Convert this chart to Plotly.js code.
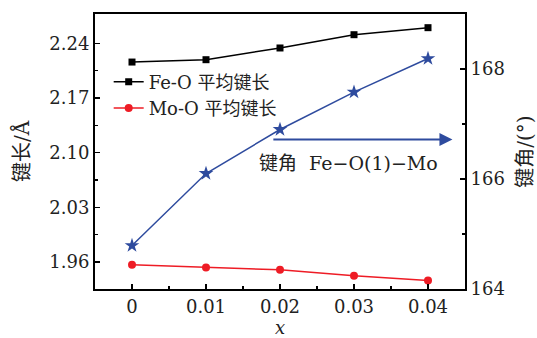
<!DOCTYPE html>
<html><head><meta charset="utf-8">
<script src="https://cdn.plot.ly/plotly-3.0.1.min.js"></script>
<style>body{margin:0;background:#fff}#c{width:537px;height:338px}</style>
</head><body><div id="c"></div>
<script>
const xVals = [0, 0.01, 0.02, 0.03, 0.04];
const feO = [2.216, 2.219, 2.234, 2.251, 2.260];
const moO = [1.9565, 1.953, 1.950, 1.9425, 1.9365];
const angle = [164.79, 166.10, 166.90, 167.58, 168.19];
const xTicks = [0, 0.01, 0.02, 0.03, 0.04];
const xTickText = ['0', '0.01', '0.02', '0.03', '0.04'];
const yTicks = [1.96, 2.03, 2.10, 2.17, 2.24];
const yTickText = ['1.96', '2.03', '2.10', '2.17', '2.24'];
const y2Ticks = [164, 166, 168];

const serif = 'DejaVu Serif';
const cjk = 'DejaVu Serif, Noto Sans CJK SC';

const traces = [
  {x: xVals, y: feO, name: 'Fe-O 平均键长', mode: 'lines+markers',
   line: {color: '#000000', width: 1.5}, marker: {symbol: 'square', size: 7, color: '#000000'}},
  {x: xVals, y: moO, name: 'Mo-O 平均键长', mode: 'lines+markers',
   line: {color: '#ee1c25', width: 1.5}, marker: {symbol: 'circle', size: 8, color: '#ee1c25'}},
  {x: xVals, y: angle, name: '键角', yaxis: 'y2', mode: 'lines+markers', showlegend: false,
   line: {color: '#2e4b9e', width: 1.5}, marker: {symbol: 'star', size: 11, color: '#2e4b9e'}}
];

const layout = {
  width: 537, height: 338,
  margin: {l: 95, r: 72, t: 14, b: 49},
  paper_bgcolor: '#fff', plot_bgcolor: '#fff',
  font: {family: serif, size: 18, color: '#222'},
  showlegend: true,
  legend: {x: 0.037, y: 0.82, xanchor: 'left', yanchor: 'top', bgcolor: 'rgba(0,0,0,0)',
    font: {family: cjk, size: 18, color: '#222'}, tracegroupgap: 0, itemwidth: 30},
  xaxis: {range: [-0.005, 0.045], tickvals: xTicks, ticktext: xTickText,
    ticks: 'inside', ticklen: 5, tickwidth: 1.5, tickcolor: '#000',
    showline: true, linecolor: '#000', linewidth: 2, mirror: true,
    showgrid: false, zeroline: false,
    minor: {tickvals: [0.005, 0.015, 0.025, 0.035], ticks: 'inside', ticklen: 3, tickcolor: '#000', showgrid: false},
    title: {text: '<i>x</i>', font: {family: serif, size: 18}, standoff: 2}},
  yaxis: {range: [1.9255, 2.2775], tickvals: yTicks, ticktext: yTickText,
    ticks: 'inside', ticklen: 5, tickwidth: 1.5, tickcolor: '#000',
    showline: true, linecolor: '#000', linewidth: 2,
    showgrid: false, zeroline: false,
    minor: {tickvals: [1.995, 2.065, 2.135, 2.205], ticks: 'inside', ticklen: 3, tickcolor: '#000', showgrid: false},
    title: {text: '键长/Å', font: {family: cjk, size: 20}, standoff: 14}},
  yaxis2: {range: [164, 169], overlaying: 'y', side: 'right', tickvals: y2Ticks,
    ticks: 'inside', ticklen: 5, tickwidth: 1.5, tickcolor: '#000',
    showline: true, linecolor: '#000', linewidth: 2,
    showgrid: false, zeroline: false,
    minor: {tickvals: [165, 167], ticks: 'inside', ticklen: 3, tickcolor: '#000', showgrid: false},
    title: {text: '键角/(°)', font: {family: cjk, size: 20}, standoff: 16}},
  annotations: [
    {x: 0.0433, y: 2.117, ax: 0.0189, ay: 2.117, xref: 'x', yref: 'y', axref: 'x', ayref: 'y',
     showarrow: true, arrowhead: 2, arrowsize: 1.3, arrowwidth: 2, arrowcolor: '#2e4b9e', text: ''},
    {x: 0.0293, y: 2.087, xref: 'x', yref: 'y', showarrow: false,
     text: '键角  Fe−O(1)−Mo', font: {family: cjk, size: 19, color: '#222'}}
  ]
};
Plotly.newPlot('c', traces, layout, {displayModeBar: false, staticPlot: true});
</script></body></html>
